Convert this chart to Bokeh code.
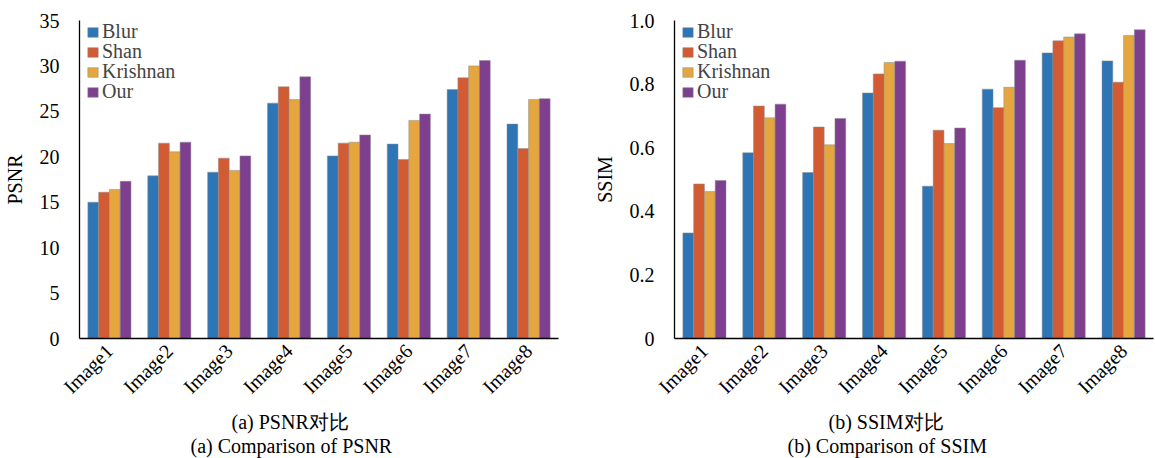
import math
from bokeh.plotting import figure
from bokeh.models import (FactorRange, Range1d, FixedTicker, Title, ColumnDataSource,
                          Legend, LegendItem)
from bokeh.transform import dodge
from bokeh.layouts import row
from bokeh.embed import file_html
from bokeh.resources import INLINE

images = ["Image1", "Image2", "Image3", "Image4", "Image5", "Image6", "Image7", "Image8"]
methods = ["Blur", "Shan", "Krishnan", "Our"]

psnr_blur = [15.0, 17.9, 18.3, 25.9, 20.1, 21.4, 27.4, 23.6]
psnr_shan = [16.1, 21.5, 19.85, 27.7, 21.5, 19.7, 28.7, 20.9]
psnr_krishnan = [16.4, 20.55, 18.5, 26.3, 21.6, 24.0, 30.0, 26.3]
psnr_our = [17.3, 21.6, 20.1, 28.8, 22.4, 24.7, 30.6, 26.4]

ssim_blur = [0.332, 0.584, 0.522, 0.772, 0.479, 0.784, 0.898, 0.873]
ssim_shan = [0.486, 0.731, 0.665, 0.832, 0.655, 0.726, 0.936, 0.806]
ssim_krishnan = [0.462, 0.694, 0.609, 0.868, 0.613, 0.790, 0.948, 0.953]
ssim_our = [0.497, 0.737, 0.692, 0.872, 0.662, 0.875, 0.958, 0.971]

psnr_ticks = [0, 5, 10, 15, 20, 25, 30, 35]
ssim_ticks = [0, 0.2, 0.4, 0.6, 0.8, 1.0]

colors = ["#2E75B6", "#D35B33", "#E5A640", "#7E3F8F"]
FONT = "Liberation Serif"
FS = "20px"
FRAME_H = 318


def make_chart(series, ylabel, yend, ticks, overrides, cap_cn, cap_en,
               width, border_left, frame_w, cap_offsets):
    p = figure(x_range=FactorRange(*images), y_range=Range1d(0, yend),
               width=width, height=458, output_backend="svg", toolbar_location=None,
               min_border_left=border_left, min_border_right=width - border_left - frame_w,
               min_border_top=20, min_border_bottom=458 - 20 - FRAME_H)
    data = {"img": images}
    for m, vals in zip(methods, series):
        data[m] = vals
    src = ColumnDataSource(data)
    offsets = [-0.27, -0.09, 0.09, 0.27]
    renderers = []
    for m, off, c in zip(methods, offsets, colors):
        r = p.vbar(x=dodge("img", off, range=p.x_range), top=m, width=0.18, source=src,
                   fill_color=c, line_color="#8c8c8c", line_alpha=0.5, line_width=1)
        renderers.append(r)

    p.outline_line_color = None
    p.xgrid.visible = False
    p.ygrid.visible = False

    ya = p.yaxis[0]
    ya.ticker = FixedTicker(ticks=ticks)
    ya.major_tick_line_color = None
    ya.minor_tick_line_color = None
    ya.axis_line_color = "black"
    ya.axis_line_width = 1.3
    ya.major_label_standoff = 14
    ya.major_label_text_font = FONT
    ya.major_label_text_font_size = FS
    ya.major_label_text_color = "black"
    ya.axis_label = ylabel
    ya.axis_label_text_font = FONT
    ya.axis_label_text_font_size = FS
    ya.axis_label_text_font_style = "normal"
    ya.axis_label_text_color = "black"
    ya.axis_label_standoff = 11
    ya.major_label_overrides = overrides

    xa = p.xaxis[0]
    xa.major_tick_line_color = None
    xa.minor_tick_line_color = None
    xa.axis_line_color = "black"
    xa.axis_line_width = 1.3
    xa.major_label_orientation = math.pi / 4
    xa.major_label_standoff = 3
    xa.major_label_text_font = FONT
    xa.major_label_text_font_size = FS
    xa.major_label_text_color = "black"

    for i, (m, r) in enumerate(zip(methods, renderers)):
        lg = Legend(items=[LegendItem(label=m, renderers=[r])],
                    location=(7, FRAME_H - 23 - 20 * i))
        lg.margin = 0
        lg.padding = 0
        lg.spacing = 0
        lg.label_height = 20
        lg.glyph_height = 12
        lg.glyph_width = 13
        lg.label_standoff = 3
        lg.label_text_font = FONT
        lg.label_text_font_size = FS
        lg.border_line_color = None
        lg.background_fill_alpha = 0
        p.add_layout(lg)

    for txt, off in zip((cap_cn, cap_en), cap_offsets):
        p.add_layout(Title(text=txt, align="left", offset=off, standoff=0,
                           text_font=FONT, text_font_size=FS, text_font_style="normal",
                           text_color="black"), "below")
    return p


p1 = make_chart([psnr_blur, psnr_shan, psnr_krishnan, psnr_our], "PSNR", 35, psnr_ticks,
                {0: "0"}, "(a) PSNR对比", "(a) Comparison of PSNR",
                580, 76, 482, (152, 111))
p2 = make_chart([ssim_blur, ssim_shan, ssim_krishnan, ssim_our], "SSIM", 1.0, ssim_ticks,
                {0: "0", 1: "1.0"}, "(b) SSIM对比", "(b) Comparison of SSIM",
                575, 94, 479, (154, 113))

layout = row(p1, p2)
open("out.html", "w").write(file_html(layout, INLINE))
